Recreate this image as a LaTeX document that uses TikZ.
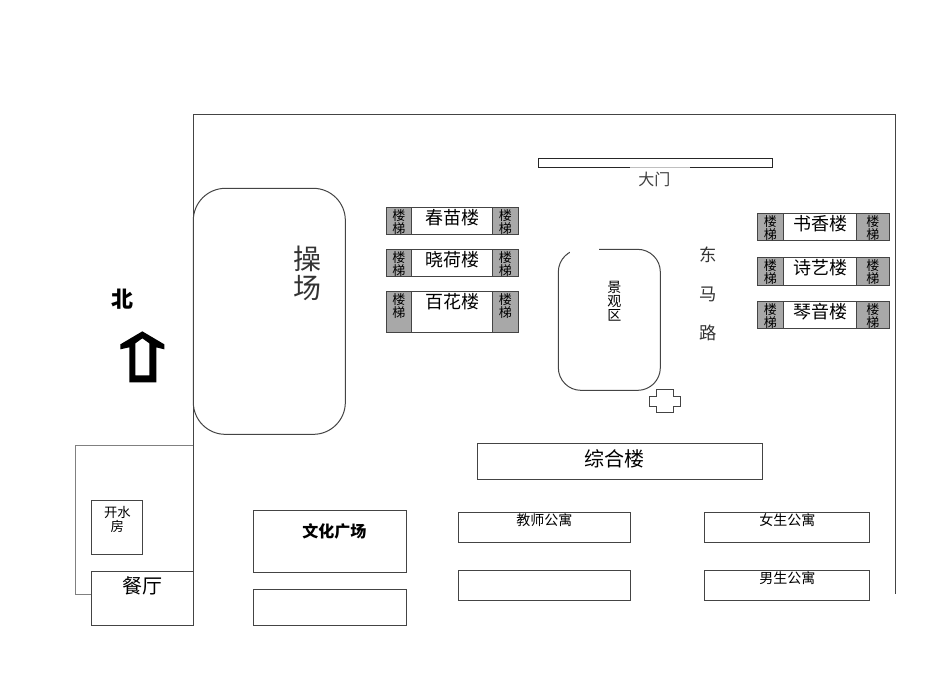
\documentclass[tikz,border=0pt]{standalone}
\usepackage{fontspec}
\setmainfont{Noto Sans CJK SC}
\definecolor{wall}{HTML}{444444}
\definecolor{stair}{HTML}{A8A8A8}
\newcommand{\fsz}[1]{\fontsize{#1}{#1}\selectfont}
\tikzset{
  x=0.75pt,y=-0.75pt,
  line/.style={draw=wall,line width=0.75pt},
  room/.style={line,fill=white},
  stairbox/.style={line,fill=stair},
  lbl/.style={inner sep=0pt,outer sep=0pt,text=black,align=center},
}
\newcommand{\building}[8]{% name x1 x2 x3 x4 y1 y2 label
  \draw[room] (#2,#6) rectangle (#5,#7);
  \draw[stairbox] (#2,#6) rectangle (#3,#7);
  \draw[stairbox] (#4,#6) rectangle (#5,#7);
  \node[lbl,font=\fsz{9.75pt}] (#1La) at ({(#2+#3)/2},#6+8) {楼};
  \node[lbl,font=\fsz{9.75pt}] (#1Lb) at ({(#2+#3)/2},#6+21) {梯};
  \node[lbl,font=\fsz{9.75pt}] (#1Ra) at ({(#4+#5)/2},#6+8) {楼};
  \node[lbl,font=\fsz{9.75pt}] (#1Rb) at ({(#4+#5)/2},#6+21) {梯};
  \node[lbl,font=\fsz{13.5pt}] (#1) at ({(#3+#4)/2+0.5},#6+10.5) {#8};
}
\begin{document}
\begin{tikzpicture}
\useasboundingbox (0,0) rectangle (950,672);
\begin{scope}[xshift=0.25pt,yshift=-0.25pt]
% outer wall
\draw[line] (193,571) -- (193,114) -- (895,114) -- (895,594);
\draw[line,draw=gray] (193,445) -- (75,445) -- (75,594) -- (91,594);
% gate
\draw[room,draw=black!85] (538,158) rectangle (772,167);
\draw[line width=0.8pt,draw=white!75!black] (630,167) -- (690,167);
\node[lbl,text=black!75,font=\fsz{12pt}] (gate) at (654,179) {大门};
% playground
\draw[line,rounded corners=24pt] (193,188) rectangle (345,434);
\node[lbl,text=black!80,font=\fsz{21pt}] (pa) at (307,259) {操};
\node[lbl,text=black!80,font=\fsz{21pt}] (pb) at (307,288) {场};
% left buildings
\building{cm}{386}{411}{492}{518}{207}{234}{春苗楼}
\building{xh}{386}{411}{492}{518}{249}{276}{晓荷楼}
\building{bh}{386}{411}{492}{518}{291}{332}{百花楼}
% right buildings
\building{sx}{757}{783}{856}{889}{213}{240}{书香楼}
\building{sy}{757}{783}{856}{889}{257}{285}{诗艺楼}
\building{qy}{757}{783}{856}{889}{301}{328}{琴音楼}
% scenic area
\draw[line,rounded corners=17pt] (558,249) rectangle (660,390);
\fill[white] (569.5,246) rectangle (599,253);
\node[lbl,font=\fsz{10.5pt}] (ja) at (614,287) {景};
\node[lbl,font=\fsz{10.5pt}] (jb) at (614,301) {观};
\node[lbl,font=\fsz{10.5pt}] (jc) at (614,315) {区};
% cross
\draw[room] (656,389) -- (673,389) -- (673,396) -- (680,396) -- (680,406) -- (673,406) -- (673,412) -- (656,412) -- (656,406) -- (649,406) -- (649,396) -- (656,396) -- cycle;
% road
\node[lbl,text=black!80,font=\fsz{13pt}] (da) at (708,254) {东};
\node[lbl,text=black!80,font=\fsz{13pt}] (db) at (708,294) {马};
\node[lbl,text=black!80,font=\fsz{13pt}] (dc) at (708,333) {路};
% north
\node[lbl,font=\bfseries\fsz{16.5pt}] (north) at (122,299) {北};
\fill[black,even odd rule] (142,331) -- (164,344) -- (164,349) -- (156,347) -- (156,382) -- (129,382) -- (129,347) -- (120,349) -- (120,344) -- cycle
  (142,338) -- (135,343) -- (135,375) -- (149,375) -- (149,343) -- cycle;
% general building
\draw[room] (477,443) rectangle (762,479);
\node[lbl,font=\fsz{15pt}] (zh) at (614,458) {综合楼};
% dorms
\draw[room] (458,512) rectangle (630,542);
\node[lbl,font=\fsz{10.5pt}] (js) at (544,520) {教师公寓};
\draw[room] (458,570) rectangle (630,600);
\draw[room] (704,512) rectangle (869,542);
\node[lbl,font=\fsz{10.5pt}] (ns) at (787,520) {女生公寓};
\draw[room] (704,570) rectangle (869,600);
\node[lbl,font=\fsz{10.5pt}] (nn) at (787,578) {男生公寓};
% plaza
\draw[room] (253,510) rectangle (406,572);
\node[lbl,font=\bfseries\fsz{12pt}] (wh) at (334,531) {文化广场};
\draw[room] (253,589) rectangle (406,625);
% water room, canteen
\draw[room] (91,500) rectangle (142,554);
\node[lbl,font=\fsz{10pt}] (ksa) at (117,512) {开水};
\node[lbl,font=\fsz{10pt}] (ksb) at (117,526) {房};
\draw[room] (91,571) rectangle (193,625);
\node[lbl,font=\fsz{15pt}] (ct) at (142,586) {餐厅};
\end{scope}
\end{tikzpicture}
\end{document}
